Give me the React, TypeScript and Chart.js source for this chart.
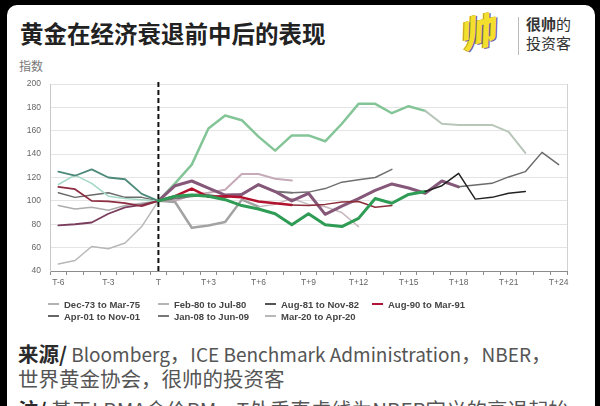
import React, { useEffect, useRef } from "react";
import { Chart, registerables } from "chart.js";
Chart.register(...registerables);

// ---- data (index 0 = T-6, index 6 = T) ----
const categories = [
  "T-6", "T-5", "T-4", "T-3", "T-2", "T-1", "T",
  "T+1", "T+2", "T+3", "T+4", "T+5", "T+6", "T+7", "T+8", "T+9", "T+10",
  "T+11", "T+12", "T+13", "T+14", "T+15", "T+16", "T+17", "T+18", "T+19", "T+20",
  "T+21", "T+22", "T+23", "T+24",
];
const yTicks = [40, 60, 80, 100, 120, 140, 160, 180, 200];

const seriesNames = [
  "Dec-73 to Mar-75",
  "Feb-80 to Jul-80",
  "Aug-81 to Nov-82",
  "Aug-90 to Mar-91",
  "Apr-01 to Nov-01",
  "Jan-08 to Jun-09",
  "Mar-20 to Apr-20",
];

const dec73 = [114, 122, 115, 104, 102, 101, 100, 115, 131, 162, 173, 169, 155, 143, 156, 156, 151, 166, 183, 183, 175, 181, 177, 166, 165, 165, 165, 159, 141];
const feb80 = [46, 49, 61, 59, 64, 78, 100, 99, 77, 79, 82, 101, 95, 97, 102, 97, 95, 90, 78];
const aug81 = [125, 121.5, 127, 120, 118.5, 106, 100, 104, 105, 104, 101, 96, 93, 89, 79.5, 89, 79.5, 78, 85, 102, 98, 105.5, 108, 113, 123.5, 101.5, 103, 106.5, 108];
const aug90 = [112, 110, 100, 99.5, 98, 95.5, 100, 104, 110.5, 103.5, 104, 103, 99.5, 98, 96.5, 96, 97, 99, 99.5, 94.5, 96];
const apr01 = [107, 103, 105, 107, 103, 103, 100, 102, 104, 105, 103, 106, 113.5, 108, 107, 107.5, 110.5, 116, 118, 120, 127];
const jan08 = [79, 80, 81.5, 89, 94.5, 96.5, 100, 113, 117, 111, 105, 105.5, 114, 108, 100, 106.5, 88.5, 95.5, 102, 109, 114.5, 111, 106.5, 117, 112, 113.5, 115, 120.5, 125, 141.5, 131];
const mar20 = [96, 93, 94.5, 92, 96, 98, 100, 100, 105, 107, 109.5, 123, 123, 119, 117.5];

// months after T that each recession lasted (colour change points)
const recessionLength = [16, 6, 16, 8, 8, 18, 2];

// [pre, during, after] colours and widths
const lineColors = [
  ["#a3d8c4", "#84c597", "#b8c6ba"],
  ["#b7b7b7", "#a3a3a3", "#c7b8bf"],
  ["#4d8a79", "#2f9c55", "#222222"],
  ["#8e2c41", "#b3122e", "#8d2d3b"],
  ["#6a6a6a", "#767676", "#707070"],
  ["#7a3d5e", "#85587a", "#6b6b6b"],
  ["#adadad", "#c6aab7", "#c6aab7"],
];
const lineWidths = [
  [1.5, 2.5, 2],
  [1.5, 2.5, 1.5],
  [1.8, 3, 1.5],
  [1.8, 2.5, 1.5],
  [1.5, 2, 1.5],
  [1.8, 3, 1.5],
  [1.5, 2, 2],
];
const legendColors = ["#b2b2b2", "#b5b5b5", "#555555", "#b3123a", "#666666", "#777777", "#b8b8b8"];
const drawOrder = [2, 3, 5, 0, 4, 1, 6]; // first = top-most

const allSeries = [dec73, feb80, aug81, aug90, apr01, jan08, mar20];

const legendCols = [48, 158, 265, 372];
const legendRows = [304, 316];

function padSeries(arr: number[]) {
  return categories.map((_, i) => (i < arr.length ? arr[i] : null));
}

const refLines = {
  id: "refLines",
  afterDatasetsDraw(chart: any) {
    const { ctx, chartArea, scales } = chart;
    const x = scales.x.getPixelForValue(6);
    ctx.save();
    ctx.strokeStyle = "#d2d2d2";
    ctx.lineWidth = 1;
    ctx.beginPath();
    ctx.moveTo(chartArea.right + 0.5, chartArea.top);
    ctx.lineTo(chartArea.right + 0.5, chartArea.bottom);
    ctx.stroke();
    ctx.strokeStyle = "#111";
    ctx.lineWidth = 2;
    ctx.setLineDash([5, 3]);
    ctx.beginPath();
    ctx.moveTo(x, chartArea.top - 2);
    ctx.lineTo(x, chartArea.bottom);
    ctx.stroke();
    ctx.restore();
  },
};

function ChartCanvas() {
  const ref = useRef<HTMLCanvasElement | null>(null);
  useEffect(() => {
    if (!ref.current) return;
    const datasets = drawOrder.map((si) => {
      const phase = (i: number) => (i < 6 ? 0 : i < 6 + recessionLength[si] ? 1 : 2);
      return {
        label: seriesNames[si],
        data: padSeries(allSeries[si]),
        borderColor: lineColors[si][0],
        borderWidth: lineWidths[si][0],
        pointRadius: 0,
        pointHoverRadius: 0,
        tension: 0,
        fill: false,
        borderJoinStyle: "round" as const,
        borderCapStyle: "round" as const,
        segment: {
          borderColor: (c: any) => lineColors[si][phase(c.p0DataIndex)],
          borderWidth: (c: any) => lineWidths[si][phase(c.p0DataIndex)],
        },
      };
    });
    const chart = new Chart(ref.current, {
      type: "line",
      data: { labels: categories, datasets },
      options: {
        responsive: false,
        animation: false,
        events: [],
        layout: { padding: { left: 0, top: 84, right: 33, bottom: 9 } },
        plugins: { legend: { display: false }, tooltip: { enabled: false } },
        scales: {
          x: {
            offset: true,
            grid: {
              offset: true,
              drawOnChartArea: false,
              color: "#8c8c8c",
              tickLength: 4,
            },
            border: { color: "#8c8c8c", width: 1 },
            ticks: {
              autoSkip: false,
              maxRotation: 0,
              padding: 3,
              color: "#666",
              font: { family: "Liberation Sans", size: 8.5 },
              callback: (_v: any, i: number) => (i % 3 === 0 ? categories[i] : ""),
            },
            afterFit: (s: any) => {
              s.height = 20;
            },
          },
          y: {
            min: yTicks[0],
            max: yTicks[yTicks.length - 1],
            afterBuildTicks: (s: any) => {
              s.ticks = yTicks.map((v) => ({ value: v }));
            },
            grid: { color: "#e4e4e4", drawTicks: false },
            border: { color: "#c8c8c8" },
            ticks: {
              padding: 9,
              color: "#666",
              font: { family: "Liberation Sans", size: 8.5 },
            },
            afterFit: (s: any) => {
              s.width = 50;
            },
          },
        },
      },
      plugins: [refLines],
    });
    return () => chart.destroy();
  }, []);
  return (
    <canvas
      ref={ref}
      width={600}
      height={300}
      style={{ position: "absolute", left: 0, top: 0, width: 600, height: 300 }}
    />
  );
}

export default function App() {
  const cjk = '"Noto Sans CJK SC", "Noto Sans", sans-serif';
  return (
    <div
      style={{
        position: "absolute",
        left: 0,
        top: 0,
        width: 600,
        height: 406,
        background: "#000",
        overflow: "hidden",
        fontFamily: cjk,
      }}
    >
      <div
        style={{
          position: "absolute",
          left: 7,
          top: 5,
          width: 588,
          height: 440,
          background: "#fff",
          borderRadius: 10,
        }}
      />
      <div
        style={{
          position: "absolute",
          left: 20,
          top: 18,
          fontSize: 23.5,
          lineHeight: "30px",
          fontWeight: 700,
          color: "#222",
          whiteSpace: "nowrap",
        }}
      >
        黄金在经济衰退前中后的表现
      </div>
      <div
        style={{
          position: "absolute",
          left: 458,
          top: 8,
          fontSize: 36,
          lineHeight: "44px",
          fontWeight: 900,
          fontStyle: "italic",
          color: "#f3df2c",
          textShadow: "1px 1px 0 #6b5a9a, -1px 0 0 #b59a2a",
          transform: "rotate(-12deg)",
        }}
      >
        帅
      </div>
      <div style={{ position: "absolute", left: 518, top: 17, width: 1, height: 38, background: "#bbb" }} />
      <div
        style={{
          position: "absolute",
          left: 526,
          top: 14,
          fontSize: 15,
          lineHeight: "19px",
          color: "#333",
          whiteSpace: "nowrap",
        }}
      >
        <div>
          <span style={{ fontWeight: 700 }}>很帅</span>的
        </div>
        <div>投资客</div>
      </div>
      <div
        style={{
          position: "absolute",
          left: 19,
          top: 58,
          fontSize: 12,
          lineHeight: "16px",
          color: "#777",
        }}
      >
        指数
      </div>
      <ChartCanvas />
      {seriesNames.map((name, i) => (
        <div
          key={name}
          style={{
            position: "absolute",
            left: legendCols[i % 4],
            top: legendRows[Math.floor(i / 4)] - 6,
            height: 12,
            display: "flex",
            alignItems: "center",
            whiteSpace: "nowrap",
            fontFamily: '"Liberation Sans", Arial, sans-serif',
            fontSize: 9.5,
            fontWeight: 700,
            color: "#454545",
          }}
        >
          <span
            style={{
              display: "inline-block",
              width: 11,
              height: 2,
              background: legendColors[i],
              marginRight: 5,
            }}
          />
          {name}
        </div>
      ))}
      <div
        style={{
          position: "absolute",
          left: 18,
          top: 341,
          fontSize: 20.5,
          lineHeight: "24px",
          color: "#555",
          whiteSpace: "nowrap",
        }}
      >
        <div>
          <span style={{ fontWeight: 700, color: "#2a2a2a" }}>来源/</span>
          <span style={{ fontSize: 19 }}> Bloomberg</span>，
          <span style={{ fontSize: 19 }}>ICE Benchmark Administration</span>，
          <span style={{ fontSize: 19 }}>NBER</span>，
        </div>
        <div>世界黄金协会，很帅的投资客</div>
        <div style={{ marginTop: 7 }}>
          <span style={{ fontWeight: 700, color: "#2a2a2a" }}>注/</span> 基于LBMA金价PM，T处垂直虚线为NBER定义的衰退起始
        </div>
      </div>
    </div>
  );
}
